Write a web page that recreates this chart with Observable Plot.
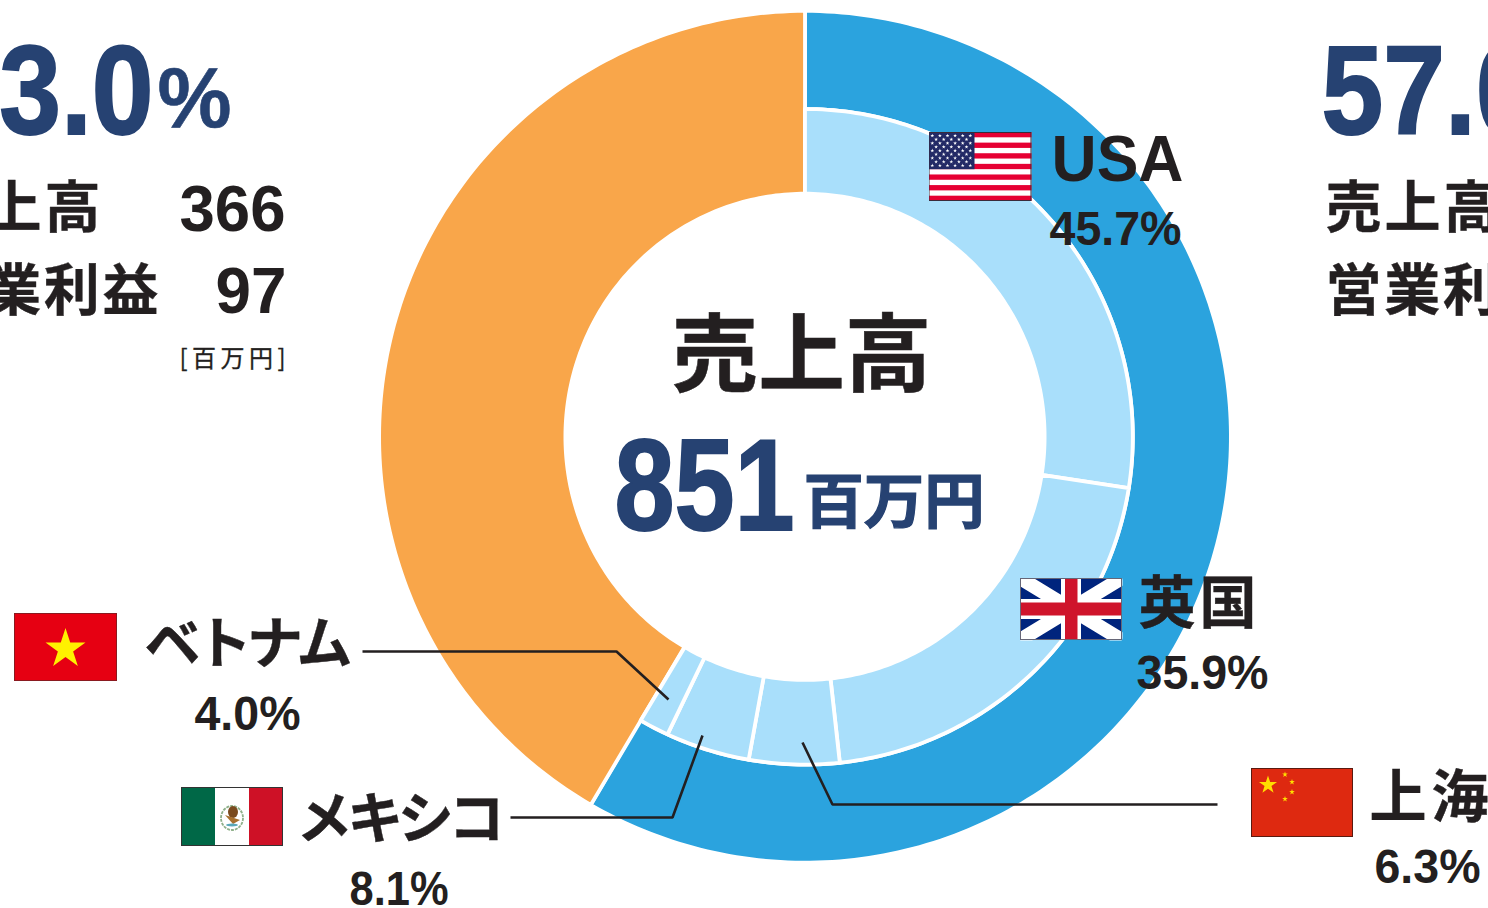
<!DOCTYPE html>
<html lang="ja">
<head>
<meta charset="utf-8">
<script src="https://cdn.jsdelivr.net/npm/d3@7"></script>
<script src="https://cdn.jsdelivr.net/npm/@observablehq/plot@0.6"></script>
<style>
html,body{margin:0;padding:0;background:#fff;overflow:hidden}
svg{display:block}
</style>
</head>
<body>
<div id="chart"></div>
<script>
// ---- values ----
const regionNames = ["海外", "日本"];
const regionSweep = [210.2, 149.8];           // degrees as drawn
const countryNames = ["USA", "英国", "上海", "メキシコ", "ベトナム"];
const countrySweep = [99, 74.9, 16, 14.9, 5.3]; // degrees as drawn
const countryLabels = ["45.7%", "35.9%", "6.3%", "8.1%", "4.0%"];
const regionLabels = ["57.0", "43.0"];
const totalLabel = "851";

// ---- style ----
const NAVY = "#264272", INK = "#231f20";
const CX = 804.5, CY = 436.3;
const HOLE_RX = 239.6, HOLE_RY = 243.1, MID = 327.8, OUTER = 425.9;
const LATIN = "'Liberation Sans',Arimo,Arial,sans-serif";
const CJK = "'Noto Sans CJK JP','Noto Sans',sans-serif";

function sector(name, a0, a1, r0, r1) {
  const pts = [], n = Math.max(2, Math.ceil(Math.abs(a1 - a0)));
  const at = (a, rx, ry) => ({name, px: CX + rx * Math.sin(a * Math.PI / 180), py: CY - ry * Math.cos(a * Math.PI / 180)});
  for (let i = 0; i <= n; i++) { const a = a0 + (a1 - a0) * i / n; pts.push(at(a, r1, r1)); }
  for (let i = n; i >= 0; i--) {
    const a = a0 + (a1 - a0) * i / n;
    pts.push(r0 === "hole" ? at(a, HOLE_RX, HOLE_RY) : at(a, r0, r0));
  }
  pts.push(pts[0]);
  return pts;
}
function ring(names, sweeps, radiusOf) {
  let a = 0; const out = [];
  names.forEach((nm, i) => {
    const [r0, r1] = radiusOf(i);
    out.push(...sector(nm, a, a + sweeps[i], r0, r1));
    a += sweeps[i];
  });
  return out;
}
const outerPts = ring(regionNames, regionSweep, i => i === 0 ? [MID, OUTER] : ["hole", OUTER]);
const innerPts = ring(countryNames, countrySweep, () => ["hole", MID]);

// ---- flags ----
function uri(body, w, h) {
  return "data:image/svg+xml," + encodeURIComponent(
    `<svg xmlns="http://www.w3.org/2000/svg" viewBox="0 0 ${w} ${h}" width="${w}" height="${h}" preserveAspectRatio="none">${body}</svg>`);
}
function star(cx, cy, r, fill) {
  const p = d3.range(10).map(i => {
    const q = i % 2 ? r * 0.382 : r, a = -Math.PI / 2 + i * Math.PI / 5;
    return `${cx + q * Math.cos(a)},${cy + q * Math.sin(a)}`;
  }).join(" ");
  return `<polygon points="${p}" fill="${fill}"/>`;
}
const usBody = (() => {
  let s = `<rect width="103" height="69" fill="#fff"/>`;
  for (let i = 0; i < 13; i += 2) s += `<rect y="${i * 69 / 13}" width="103" height="${69 / 13}" fill="#e60033"/>`;
  s += `<rect width="46" height="37.2" fill="#232a66"/>`;
  for (let r = 0; r < 9; r++) {
    const n = r % 2 ? 5 : 6;
    for (let c = 0; c < n; c++) s += star((r % 2 ? 7.6 : 3.8) + c * 7.6, 3.7 + r * 3.73, 2, "#fff");
  }
  return s + `<rect x=".5" y=".5" width="102" height="68" fill="none" stroke="#3a2a3a"/>`;
})();
const ukBody = `<rect width="102" height="62" fill="#00247d"/>
<path d="M0 0L102 62M102 0L0 62" stroke="#fff" stroke-width="14"/>
<rect x="41" width="20" height="62" fill="#fff"/><rect y="21" width="102" height="20" fill="#fff"/>
<rect x="45" width="12.5" height="62" fill="#cf142b"/><rect y="24.5" width="102" height="13" fill="#cf142b"/>
<rect x=".5" y=".5" width="101" height="61" fill="none" stroke="#667"/>`;
const cnBody = `<rect width="102" height="69" fill="#de2910"/>${star(17, 17, 9.5, "#ffde00")}${star(34, 6.5, 3, "#ffde00")}${star(41, 14, 3, "#ffde00")}${star(41, 24, 3, "#ffde00")}${star(34, 31, 3, "#ffde00")}<rect x=".5" y=".5" width="101" height="68" fill="none" stroke="#5a1a10"/>`;
const vnBody = `<rect width="103" height="68" fill="#e60012"/>${star(51.5, 36, 21, "#fff100")}<rect x=".5" y=".5" width="102" height="67" fill="none" stroke="#8a1a20"/>`;
const mxBody = `<rect width="102" height="59" fill="#fff"/><rect width="34" height="59" fill="#006847"/><rect x="68" width="34" height="59" fill="#ce1126"/>
<ellipse cx="51" cy="31" rx="11" ry="12" fill="none" stroke="#8fb08a" stroke-width="1.8" stroke-dasharray="3 1"/><ellipse cx="52" cy="25" rx="5" ry="6" fill="#7a4a1e"/><path d="M44 28L59 33L52 37Z" fill="#a8702e"/><ellipse cx="51" cy="38" rx="6" ry="1.4" fill="#5aa8b8"/>
<rect x=".5" y=".5" width="101" height="58" fill="none" stroke="#333"/>`;
const flags = [
  {name: "USA", body: usBody, x0: 928, y0: 131.5, w: 103.5, h: 69.5},
  {name: "英国", body: ukBody, x0: 1019.5, y0: 577.5, w: 102.5, h: 62.5},
  {name: "上海", body: cnBody, x0: 1250.5, y0: 767.5, w: 102.5, h: 69.5},
  {name: "ベトナム", body: vnBody, x0: 13.5, y0: 612.5, w: 103.5, h: 68.5},
  {name: "メキシコ", body: mxBody, x0: 180.5, y0: 786.5, w: 102.5, h: 59.5}
];

// ---- leader lines ----
const leaders = [
  {name: "ベトナム", pts: [[362, 651], [616, 651], [668, 699]]},
  {name: "メキシコ", pts: [[510, 817], [672, 817], [702, 735]]},
  {name: "上海", pts: [[1217, 804], [832, 804], [802, 742]]}
].flatMap(l => l.pts.map(([px, py]) => ({name: l.name, px, py})));

// ---- text placement: left, baseline, size, fitted width ----
const texts = [
  {s: "売上高", x: 671, y: 384, size: 85, w: 260, fill: INK, font: CJK, weight: 700, bold: 0.5},
  {s: totalLabel, x: 614, y: 529, size: 130, w: 180, fill: NAVY, font: LATIN, weight: 700, bold: 2},
  {s: "百万円", x: 803, y: 522, size: 60, w: 181, fill: NAVY, font: CJK, weight: 700, bold: 1.2},

  {s: regionLabels[1], x: -63, y: 133, size: 127, w: 216, fill: NAVY, font: LATIN, weight: 700, bold: 2},
  {s: "%", x: 157, y: 126, size: 86, w: 74, fill: NAVY, font: LATIN, weight: 700, bold: 0.6},
  {s: "売上高", x: -74, y: 226, size: 56, w: 174, fill: INK, font: CJK, weight: 700, gap: true, bold: 0.4},
  {s: "営業利益", x: -74, y: 309, size: 56, w: 232, fill: INK, font: CJK, weight: 700, gap: true, bold: 0.4},
  {s: "366", x: 179, y: 230, size: 64, w: 106, fill: INK, font: LATIN, weight: 700},
  {s: "97", x: 215, y: 312, size: 64, w: 71, fill: INK, font: LATIN, weight: 700},
  {s: "[百万円]", x: 179, y: 366, size: 24, w: 106, fill: INK, font: CJK, weight: 400, gap: true, bold: 0.3},

  {s: regionLabels[0], x: 1321, y: 133, size: 127, w: 216, fill: NAVY, font: LATIN, weight: 700, bold: 2},
  {s: "売上高", x: 1325, y: 226, size: 56, w: 174, fill: INK, font: CJK, weight: 700, gap: true, bold: 0.4},
  {s: "営業利益", x: 1325, y: 309, size: 56, w: 232, fill: INK, font: CJK, weight: 700, gap: true, bold: 0.4},

  {s: countryNames[0], x: 1051, y: 180, size: 64, w: 132, fill: INK, font: LATIN, weight: 700},
  {s: countryLabels[0], x: 1049, y: 244, size: 49, w: 132, fill: INK, font: LATIN, weight: 700},
  {s: countryNames[1], x: 1138, y: 622, size: 57, w: 118, fill: INK, font: CJK, weight: 700, gap: true, bold: 0.4},
  {s: countryLabels[1], x: 1136, y: 688, size: 49, w: 132, fill: INK, font: LATIN, weight: 700},
  {s: countryNames[2], x: 1369, y: 816, size: 57, w: 119, fill: INK, font: CJK, weight: 700, gap: true, bold: 0.4},
  {s: countryLabels[2], x: 1374, y: 882, size: 49, w: 106, fill: INK, font: LATIN, weight: 700},
  {s: countryNames[4], x: 144, y: 662, size: 56, w: 208, fill: INK, font: CJK, weight: 700, gap: true, bold: 0.4},
  {s: countryLabels[4], x: 194, y: 729, size: 49, w: 106, fill: INK, font: LATIN, weight: 700},
  {s: countryNames[3], x: 296, y: 837, size: 56, w: 208, fill: INK, font: CJK, weight: 700, gap: true, bold: 0.4},
  {s: countryLabels[3], x: 349, y: 904, size: 49, w: 99, fill: INK, font: LATIN, weight: 700}
];

function fitted(t) {
  return Plot.text([t], {
    x: "x", y: "y", text: "s",
    textAnchor: "start", lineAnchor: "bottom",
    fontSize: t.size, fontFamily: t.font, fontWeight: t.weight, fill: t.fill,
    render(index, scales, values, dimensions, context, next) {
      const g = next(index, scales, values, dimensions, context);
      g.querySelectorAll("text").forEach(el => {
        el.setAttribute("textLength", t.w);
        el.setAttribute("lengthAdjust", t.gap ? "spacing" : "spacingAndGlyphs");
        if (t.bold) {
          el.setAttribute("stroke", t.fill);
          el.setAttribute("stroke-width", t.bold);
          el.setAttribute("paint-order", "stroke");
        }
      });
      return g;
    }
  });
}

const chart = Plot.plot({
  width: 1488, height: 908, margin: 0,
  style: {background: "#fff", overflow: "hidden"},
  x: {domain: [0, 1488], range: [0, 1488], axis: null},
  y: {domain: [0, 908], range: [0, 908], axis: null},
  color: {
    domain: [...regionNames, ...countryNames],
    range: ["#2ba3de", "#f9a64a", "#a9dffb", "#a9dffb", "#a9dffb", "#a9dffb", "#a9dffb"]
  },
  marks: [
    Plot.line(outerPts, {x: "px", y: "py", z: "name", fill: "name", stroke: "#fff", strokeWidth: 3.8, strokeLinejoin: "round", curve: "linear"}),
    Plot.line(innerPts, {x: "px", y: "py", z: "name", fill: "name", stroke: "#fff", strokeWidth: 3.8, strokeLinejoin: "round", curve: "linear"}),
    Plot.line(leaders, {x: "px", y: "py", z: "name", stroke: INK, strokeWidth: 2.6, strokeLinejoin: "miter", strokeLinecap: "butt"}),
    ...flags.map(f => Plot.image([f], {
      x: d => d.x0 + d.w / 2, y: d => d.y0 + d.h / 2,
      width: f.w, height: f.h, src: d => uri(d.body, d.w, d.h), preserveAspectRatio: "none"
    })),
    ...texts.map(fitted)
  ]
});
document.getElementById("chart").appendChild(chart);
</script>
</body>
</html>
